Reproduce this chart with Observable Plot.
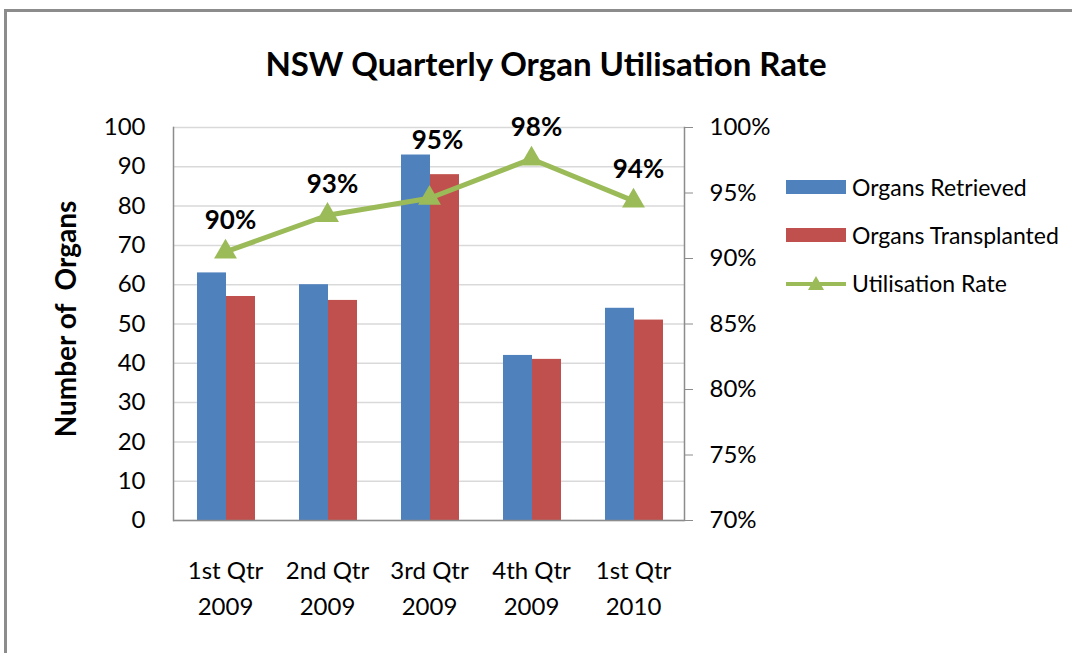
<!DOCTYPE html>
<html>
<head>
<meta charset="utf-8">
<script src="https://cdn.jsdelivr.net/npm/d3@7"></script>
<script src="https://cdn.jsdelivr.net/npm/@observablehq/plot@0.6"></script>
<style>
  html, body { margin: 0; padding: 0; background: #fff; }
  #wrap { position: relative; width: 1072px; height: 653px; overflow: hidden; font-family: Lato, "Open Sans", sans-serif; }
  #border { position: absolute; left: 4px; top: 9px; width: 1100px; height: 700px; border-left: 3px solid #8c8c8c; border-top: 3px solid #8c8c8c; box-sizing: border-box; }
  #title { position: absolute; left: 0; width: 1092px; top: 43px; text-align: center; font-size: 33px; font-weight: bold; color: #000; line-height: 40px; }
  #chart { position: absolute; left: 0; top: 0; }
  #legend { position: absolute; left: 786px; top: 163px; font-size: 23px; color: #000; }
  .item { display: flex; align-items: center; height: 48px; }
  .item svg { margin-right: 6px; }
</style>
</head>
<body>
<div id="wrap">
  <div id="border"></div>
  <div id="chart"></div>
  <div id="title">NSW Quarterly Organ Utilisation Rate</div>
  <div id="legend"></div>
</div>
<script>
const quarters = ["1st Qtr\n2009", "2nd Qtr\n2009", "3rd Qtr\n2009", "4th Qtr\n2009", "1st Qtr\n2010"];
const retrieved = [63, 60, 93, 42, 54];
const transplanted = [57, 56, 88, 41, 51];
const utilisation = [90.5, 93.3, 94.6, 97.6, 94.4];
const rateLabels = ["90%", "93%", "95%", "98%", "94%"];
const leftTicks = [0, 10, 20, 30, 40, 50, 60, 70, 80, 90, 100];
const rightTicks = [70, 75, 80, 85, 90, 95, 100];
const seriesNames = ["Organs Retrieved", "Organs Transplanted", "Utilisation Rate"];
const colors = ["#4f81bd", "#c0504d", "#9bbb59"];

const rateMin = 70, rateMax = 100;
const toY = r => (r - rateMin) / (rateMax - rateMin) * 100;

const rows = quarters.map((q, i) => ({
  q, retrieved: retrieved[i], transplanted: transplanted[i],
  rate: utilisation[i], label: rateLabels[i], ry: toY(utilisation[i])
}));

const chart = Plot.plot({
  width: 1072,
  height: 653,
  marginLeft: 173,
  marginRight: 388,
  marginTop: 127,
  marginBottom: 133,
  style: { fontFamily: "Lato, 'Open Sans', sans-serif", color: "#000", background: "transparent" },
  x: { domain: quarters, padding: 0, label: null },
  y: { domain: [0, 100], label: null },
  marks: [
    Plot.gridY(leftTicks, { stroke: "#d9d9d9", strokeOpacity: 1, strokeWidth: 1.5 }),
    Plot.barY(rows, { x: "q", y: "retrieved", fill: colors[0], insetLeft: 23, insetRight: 50 }),
    Plot.barY(rows, { x: "q", y: "transplanted", fill: colors[1], insetLeft: 52, insetRight: 21 }),
    Plot.ruleY([0], { stroke: "#8c8c8c", strokeWidth: 1.5 }),
    Plot.frame({ anchor: "left", stroke: "#8c8c8c", strokeWidth: 1.5 }),
    Plot.frame({ anchor: "right", stroke: "#8c8c8c", strokeWidth: 1.5 }),
    Plot.axisY(leftTicks, { anchor: "left", tickSize: 0, tickPadding: 28, fontSize: 24, label: null }),
    Plot.axisY(rightTicks.map(toY), {
      anchor: "right", tickSize: 8, tickPadding: 17, fontSize: 24, label: null,
      stroke: "#8c8c8c", tickFormat: (d, i) => rightTicks[i] + "%"
    }),
    Plot.axisX({ tickSize: 0, tickPadding: 33, fontSize: 24, lineHeight: 1.5, label: null }),
    Plot.line(rows, { x: "q", y: "ry", stroke: colors[2], strokeWidth: 5 }),
    Plot.dot(rows, { x: "q", y: "ry", symbol: "triangle", r: 8.5, fill: colors[2], stroke: "none" }),
    Plot.text(rows.filter(d => d.label !== "95%"), { x: "q", y: "ry", text: "label", dy: -31, dx: 5, fontSize: 26, fontWeight: "bold", fill: "#000" }),
    Plot.text(rows.filter(d => d.label === "95%"), { x: "q", y: "ry", text: "label", dy: -58, dx: 8, fontSize: 26, fontWeight: "bold", fill: "#000" }),
    Plot.text(["Number of  Organs"], { frameAnchor: "left", textAnchor: "middle", dx: -106, dy: -5, rotate: -90, text: d => d, fontSize: 28, fontWeight: "bold", fill: "#000" })
  ]
});
document.getElementById("chart").appendChild(chart);

const legend = document.getElementById("legend");
seriesNames.forEach((name, i) => {
  const item = document.createElement("div");
  item.className = "item";
  let sw;
  if (i < 2) {
    sw = `<svg width="60" height="14"><rect x="0" y="0" width="60" height="14" fill="${colors[i]}"/></svg>`;
  } else {
    sw = `<svg width="60" height="20"><line x1="0" y1="11" x2="60" y2="11" stroke="${colors[2]}" stroke-width="4"/><path d="M30,3 L38,17 L22,17 Z" fill="${colors[2]}"/></svg>`;
  }
  item.innerHTML = sw + `<span>${name}</span>`;
  legend.appendChild(item);
});
</script>
</body>
</html>
